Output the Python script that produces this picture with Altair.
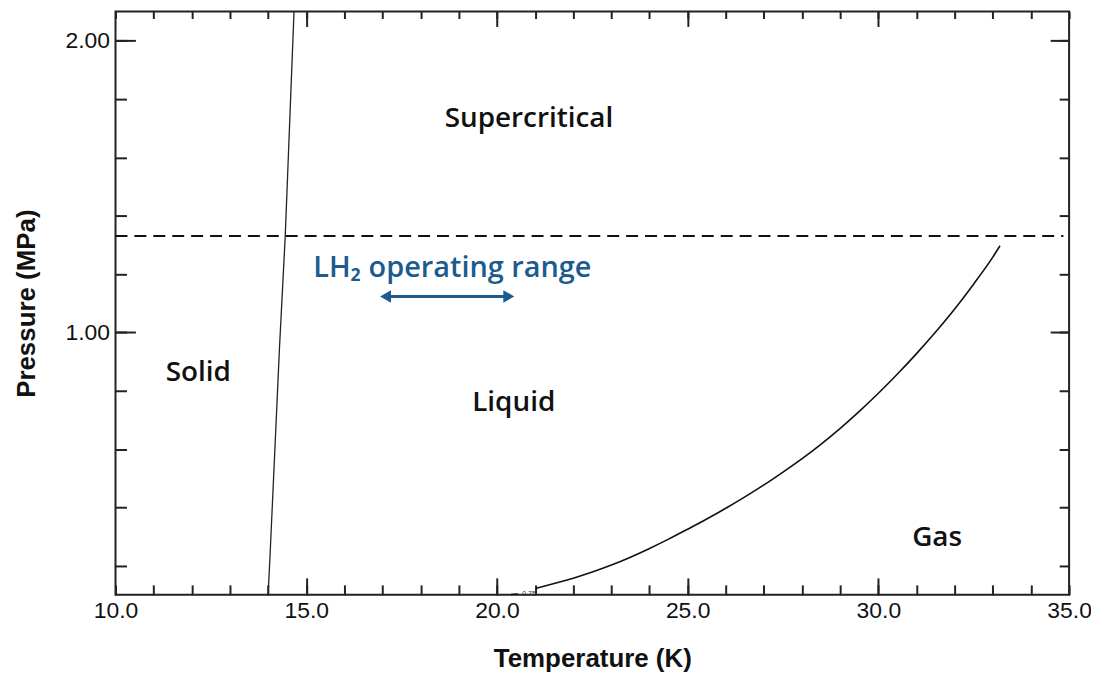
import altair as alt
import pandas as pd

# --- data ---
melt_T = [14.0, 14.05, 14.3, 14.45, 14.68]
melt_P = [0.1, 0.23, 0.95, 1.33, 2.1]

vap_T = [21.04, 21.5, 22.0, 22.5, 23.0, 23.5, 24.0, 24.5, 25.0, 25.5, 26.0, 26.5,
         27.0, 27.5, 28.0, 28.5, 29.0, 29.5, 30.0, 30.5, 31.0, 31.5, 32.0, 32.5,
         33.0, 33.19]
vap_P = [0.123, 0.139, 0.157, 0.178, 0.202, 0.229, 0.259, 0.291, 0.325, 0.360,
         0.397, 0.436, 0.477, 0.521, 0.567, 0.617, 0.671, 0.729, 0.791, 0.857,
         0.927, 1.001, 1.080, 1.166, 1.258, 1.297]

stub_T = [20.37, 20.55]
stub_P = [0.101, 0.103]

region_names = ["Supercritical", "Solid", "Liquid", "Gas"]
region_T = [20.84, 12.17, 20.44, 31.54]
region_P = [1.73, 0.86, 0.758, 0.293]

lh2_label = "LH\u2082 operating range"
lh2_T = 18.83
lh2_P = 1.222
arrow_T = [17.08, 20.31]
arrow_P = 1.123

limit_P = 1.33
limit_T = [10.0, 34.85]

contour_label = "0.75"
contour_T = 20.84
contour_P = 0.102

x_major_labels = [10, 15, 20, 25, 30, 35]
x_major_ticks = [15, 20, 25, 30]
x_minor_ticks = list(range(10, 36))
y_major = [1.0, 2.0]
y_minor = [0.2, 0.4, 0.6, 0.8, 1.0, 1.2, 1.4, 1.6, 1.8, 2.0]

XDOM = [10, 35]
YDOM = [0.1, 2.1]
BLUE = "#1b5b8f"

melt_df = pd.DataFrame({"T": melt_T, "P": melt_P})
vap_df = pd.DataFrame({"T": vap_T, "P": vap_P})
stub_df = pd.DataFrame({"T": stub_T, "P": stub_P})
reg_df = pd.DataFrame({"T": region_T, "P": region_P, "name": region_names})
lh2_df = pd.DataFrame({"T": [lh2_T], "P": [lh2_P], "name": [lh2_label]})
heads_df = pd.DataFrame({"T": arrow_T, "P": [arrow_P, arrow_P],
                         "shape": ["triangle-left", "triangle-right"]})
arrow_df = pd.DataFrame({"T": [arrow_T[0]], "T2": [arrow_T[1]], "P": [arrow_P]})
limit_df = pd.DataFrame({"T": [limit_T[0]], "T2": [limit_T[1]], "P": [limit_P]})
contour_df = pd.DataFrame({"T": [contour_T], "P": [contour_P], "name": [contour_label]})

xs = alt.Scale(domain=XDOM, nice=False, zero=False)
ys = alt.Scale(domain=YDOM, nice=False, zero=False)


def tick_axis(orient, values, size):
    return alt.Axis(orient=orient, values=values, tickSize=size, offset=-size,
                    labels=False, domain=False, grid=False, title=None,
                    tickColor="#222222", tickWidth=2)


melt = alt.Chart(melt_df).mark_line(color="#222222", strokeWidth=1.3).encode(
    x=alt.X("T:Q", scale=xs,
            axis=alt.Axis(orient="bottom", values=x_major_labels, format=".1f",
                          ticks=False, domain=False, grid=False, labelFlush=False,
                          title="Temperature (K)", labelPadding=5,
                          titleY=64, titleBaseline="middle")),
    y=alt.Y("P:Q", scale=ys,
            axis=alt.Axis(orient="left", values=y_major, format=".2f",
                          ticks=False, domain=False, grid=False, labelFlush=False,
                          title="Pressure (MPa)", labelPadding=6,
                          titleX=-89, titleBaseline="middle")),
)

vap = alt.Chart(vap_df).mark_line(color="#111111", strokeWidth=1.6,
                                  interpolate="monotone").encode(
    x=alt.X("T:Q", scale=xs, axis=tick_axis("bottom", x_minor_ticks, 10)),
    y=alt.Y("P:Q", scale=ys, axis=tick_axis("left", y_minor, 11)),
)

regions = alt.Chart(reg_df).mark_text(
    font="Open Sans", fontSize=28, fontWeight=600, color="#111111"
).encode(
    x=alt.X("T:Q", scale=xs, axis=tick_axis("bottom", x_major_ticks, 17)),
    y=alt.Y("P:Q", scale=ys, axis=tick_axis("left", y_major, 20)),
    text="name:N",
)

lh2 = alt.Chart(lh2_df).mark_text(
    font="Open Sans", fontSize=29, fontWeight=600, color=BLUE
).encode(
    x=alt.X("T:Q", scale=xs, axis=tick_axis("top", x_minor_ticks, 7)),
    y=alt.Y("P:Q", scale=ys, axis=tick_axis("right", y_minor, 10)),
    text="name:N",
)

heads = alt.Chart(heads_df).mark_point(
    filled=True, color=BLUE, size=160, opacity=1
).encode(
    x=alt.X("T:Q", scale=xs, axis=tick_axis("top", x_major_ticks, 15)),
    y=alt.Y("P:Q", scale=ys, axis=tick_axis("right", y_major, 19)),
    shape=alt.Shape("shape:N", scale=None),
)

arrow = alt.Chart(arrow_df).mark_rule(color=BLUE, strokeWidth=3).encode(
    x=alt.X("T:Q", scale=xs, axis=None),
    x2="T2:Q",
    y=alt.Y("P:Q", scale=ys, axis=None),
)

limit = alt.Chart(limit_df).mark_rule(color="#111111", strokeWidth=2,
                                      strokeDash=[12, 7]).encode(
    x=alt.X("T:Q", scale=xs, axis=None),
    x2="T2:Q",
    y=alt.Y("P:Q", scale=ys, axis=None),
)

stub = alt.Chart(stub_df).mark_line(color="#111111", strokeWidth=1.6).encode(
    x=alt.X("T:Q", scale=xs, axis=None),
    y=alt.Y("P:Q", scale=ys, axis=None),
)

contour = alt.Chart(contour_df).mark_text(
    font="Liberation Sans", fontSize=7, color="#1a3560"
).encode(
    x=alt.X("T:Q", scale=xs, axis=None),
    y=alt.Y("P:Q", scale=ys, axis=None),
    text="name:N",
)

chart = alt.layer(
    melt, vap, regions, lh2, heads, arrow, limit, stub, contour
).resolve_axis(x="independent", y="independent").properties(
    width=958, height=586,
    background="white",
    autosize=alt.AutoSizeParams(type="none"),
    padding={"left": 108, "top": 2, "right": 22, "bottom": 76},
).configure_view(
    stroke="#222222", strokeWidth=2
).configure_axis(
    labelFont="Liberation Sans", labelFontSize=23, labelColor="#111111",
    titleFont="Liberation Sans", titleFontSize=26, titleFontWeight="bold",
    titleColor="#111111",
)

chart.save("out.html", embed_options={"renderer": "svg", "actions": False})
